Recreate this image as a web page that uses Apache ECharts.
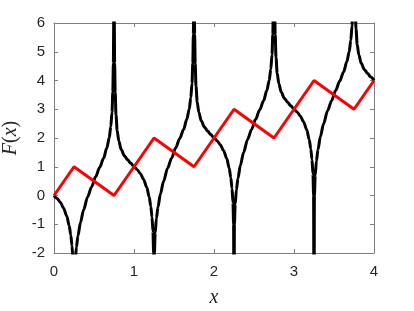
<!DOCTYPE html>
<html><head><meta charset="utf-8">
<script src="https://cdn.jsdelivr.net/npm/echarts@6/dist/echarts.min.js"></script>
<style>html,body{margin:0;padding:0;background:#fff;} #c{width:414px;height:311px;}</style>
</head><body><div id="c"></div>
<script>
// Red piecewise-linear curve
const redX = [0, 0.25, 0.75, 1.25, 1.75, 2.25, 2.75, 3.25, 3.75, 4];
const redY = [0, 1, 0, 2, 1, 3, 2, 4, 3, 4];

// Black curve (values beyond the frame mark the poles)
const blackX = [
  0, 0.04, 0.08, 0.12, 0.16, 0.19, 0.21, 0.225, 0.237, 0.245, 0.25, 0.255, 0.265, 0.28, 0.30, 0.33, 0.37, 0.42, 0.47, 0.52,
  0.57, 0.62, 0.66, 0.69, 0.71, 0.725, 0.735, 0.742, 0.747, 0.75, 0.753, 0.758, 0.765, 0.775, 0.79, 0.81, 0.84, 0.88, 0.92, 0.96,
  1, 1.04, 1.08, 1.12, 1.16, 1.19, 1.21, 1.225, 1.237, 1.245, 1.25, 1.255, 1.265, 1.28, 1.30, 1.33, 1.37, 1.42, 1.47, 1.52,
  1.57, 1.62, 1.66, 1.69, 1.71, 1.725, 1.735, 1.742, 1.747, 1.75, 1.753, 1.758, 1.765, 1.775, 1.79, 1.81, 1.84, 1.88, 1.92, 1.96,
  2, 2.04, 2.08, 2.12, 2.16, 2.19, 2.21, 2.225, 2.237, 2.245, 2.25, 2.255, 2.265, 2.28, 2.30, 2.33, 2.37, 2.42, 2.47, 2.52,
  2.57, 2.62, 2.66, 2.69, 2.71, 2.725, 2.735, 2.742, 2.747, 2.75, 2.753, 2.758, 2.765, 2.775, 2.79, 2.81, 2.84, 2.88, 2.92, 2.96,
  3, 3.04, 3.08, 3.12, 3.16, 3.19, 3.21, 3.225, 3.237, 3.245, 3.25, 3.255, 3.265, 3.28, 3.30, 3.33, 3.37, 3.42, 3.47, 3.52,
  3.57, 3.62, 3.66, 3.69, 3.71, 3.725, 3.735, 3.742, 3.747, 3.75, 3.753, 3.758, 3.765, 3.775, 3.79, 3.81, 3.84, 3.88, 3.92, 3.96,
  4
];
const blackY = [
  0, -0.1, -0.24, -0.44, -0.72, -1.05, -1.38, -1.75, -2.25, -3.0, -9, -3.0, -2.3, -1.8, -1.4, -0.95, -0.5, -0.05, 0.3, 0.65,
  0.97, 1.3, 1.65, 2.0, 2.4, 2.9, 3.6, 4.6, 6.2, 14, 6.2, 4.6, 3.6, 2.8, 2.25, 1.9, 1.6, 1.38, 1.24, 1.12,
  1, 0.9, 0.76, 0.56, 0.28, -0.05, -0.38, -0.75, -1.25, -2.0, -8, -2.0, -1.3, -0.8, -0.4, 0.05, 0.5, 0.95, 1.3, 1.65,
  1.97, 2.3, 2.65, 3.0, 3.4, 3.9, 4.6, 5.6, 7.2, 15, 7.2, 5.6, 4.6, 3.8, 3.25, 2.9, 2.6, 2.38, 2.24, 2.12,
  2, 1.9, 1.76, 1.56, 1.28, 0.95, 0.62, 0.25, -0.25, -1.0, -7, -1.0, -0.3, 0.2, 0.6, 1.05, 1.5, 1.95, 2.3, 2.65,
  2.97, 3.3, 3.65, 4.0, 4.4, 4.9, 5.6, 6.6, 8.2, 16, 8.2, 6.6, 5.6, 4.8, 4.25, 3.9, 3.6, 3.38, 3.24, 3.12,
  3, 2.9, 2.76, 2.56, 2.28, 1.95, 1.62, 1.25, 0.75, 0.0, -6, 0.0, 0.7, 1.2, 1.6, 2.05, 2.5, 2.95, 3.3, 3.65,
  3.97, 4.3, 4.65, 5.0, 5.4, 5.9, 6.6, 7.6, 9.2, 17, 9.2, 7.6, 6.6, 5.8, 5.25, 4.9, 4.6, 4.38, 4.24, 4.12,
  4
];

const xTicks = [0, 1, 2, 3, 4];
const yTicks = [-2, -1, 0, 1, 2, 3, 4, 5, 6];

const pair = (xs, ys) => xs.map((x, i) => [x, ys[i]]);
const frame = '#7f7f7f';
const txt = '#262626';
const tickFont = { color: txt, fontSize: 15, fontFamily: '"Liberation Sans", Arial, sans-serif' };
const serif = '"Liberation Serif", "DejaVu Serif", serif';

const xBase = {
  type: 'value', min: xTicks[0], max: xTicks[xTicks.length - 1], interval: xTicks[1] - xTicks[0],
  axisLine: { show: true, onZero: false, lineStyle: { color: frame, width: 1 } },
  axisTick: { show: true, inside: true, length: 4, lineStyle: { color: frame, width: 1 } },
  splitLine: { show: false }
};
const yBase = {
  type: 'value', min: yTicks[0], max: yTicks[yTicks.length - 1], interval: yTicks[1] - yTicks[0],
  axisLine: { show: true, onZero: false, lineStyle: { color: frame, width: 1 } },
  axisTick: { show: true, inside: true, length: 4, lineStyle: { color: frame, width: 1 } },
  splitLine: { show: false }
};

const chart = echarts.init(document.getElementById('c'), null, { renderer: 'canvas' });
chart.setOption({
  animation: false,
  grid: { left: 54, right: 40, top: 23, bottom: 58, containLabel: false, outerBoundsMode: 'none' },
  xAxis: [
    Object.assign({}, xBase, {
      position: 'bottom',
      axisLabel: Object.assign({ margin: 11 }, tickFont),
      name: 'x', nameLocation: 'middle', nameGap: 35,
      nameTextStyle: { fontFamily: serif, fontStyle: 'italic', fontSize: 20, color: txt }
    }),
    Object.assign({}, xBase, { position: 'top', axisLabel: { show: false } })
  ],
  yAxis: [
    Object.assign({}, yBase, {
      position: 'left',
      axisLabel: Object.assign({ margin: 9 }, tickFont),
      name: '{i|F}{r|(}{i|x}{r|)}', nameLocation: 'middle', nameGap: 26, nameRotate: 90,
      nameTextStyle: {
        rich: {
          i: { fontFamily: serif, fontStyle: 'italic', fontSize: 20, color: txt },
          r: { fontFamily: serif, fontSize: 20, color: txt }
        }
      }
    }),
    Object.assign({}, yBase, { position: 'right', axisLabel: { show: false } })
  ],
  series: [
    {
      type: 'line', data: pair(blackX, blackY), showSymbol: false, clip: true,
      smooth: 0.3, smoothMonotone: 'x',
      lineStyle: { color: '#000000', width: 3, join: 'round' }, z: 2
    },
    {
      type: 'line', data: pair(redX, redY), showSymbol: false, clip: true,
      lineStyle: { color: '#ff0000', width: 3 }, z: 3
    }
  ]
});
</script>
</body></html>
